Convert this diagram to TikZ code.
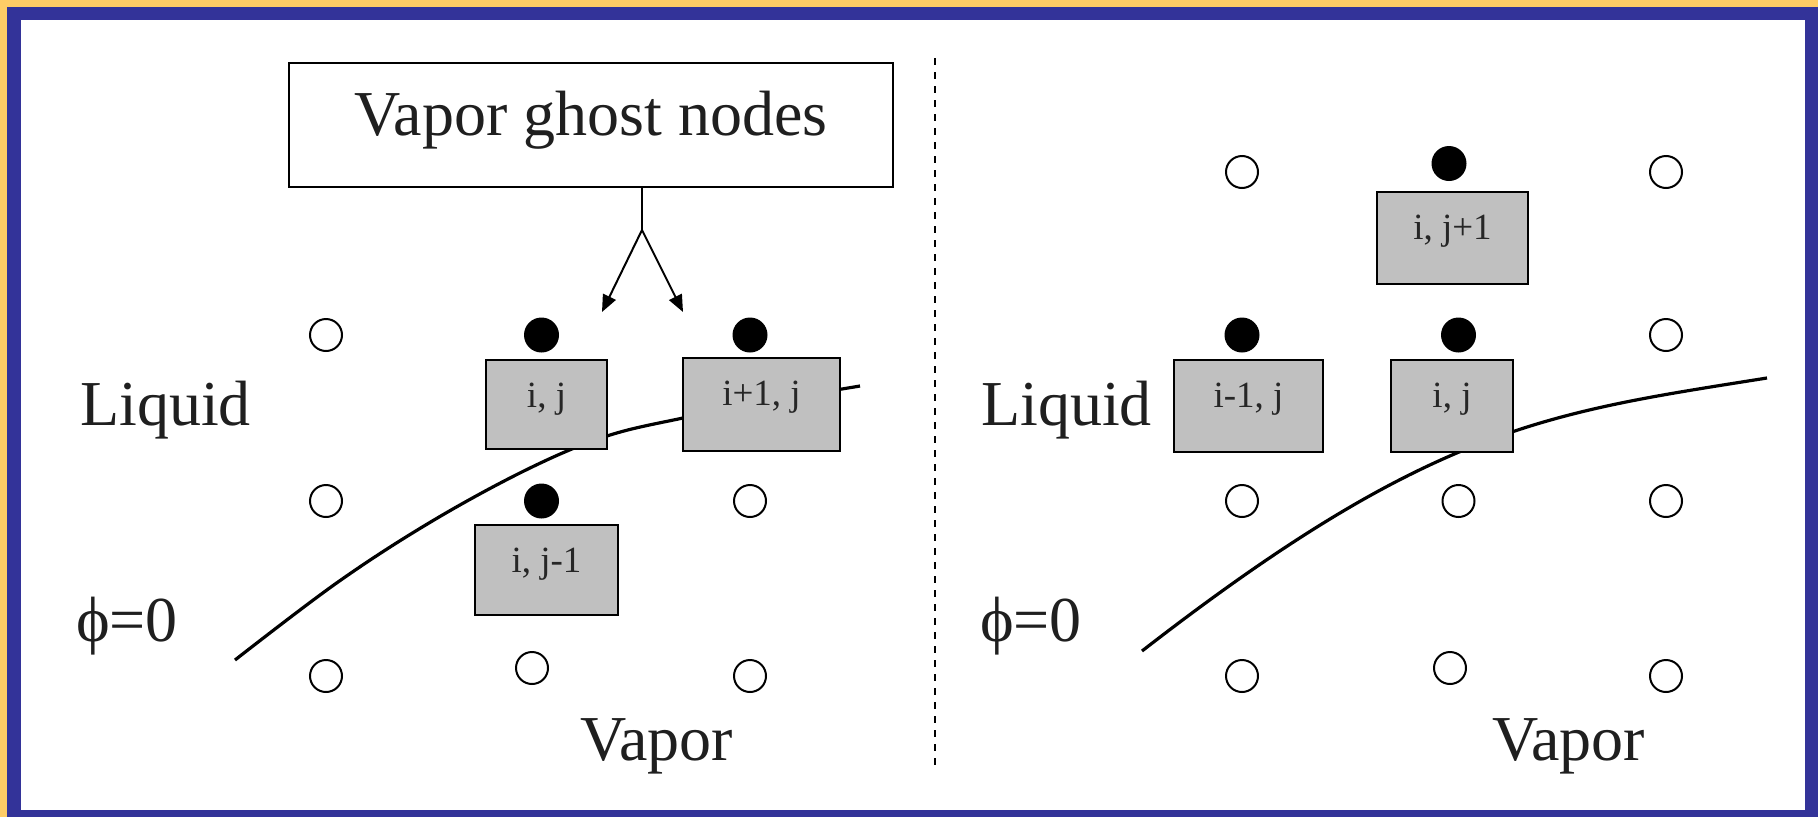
\documentclass[tikz,border=0pt]{standalone}
\usepackage{fontspec}
\setmainfont{Liberation Serif}
\usetikzlibrary{arrows.meta}
\definecolor{frameblue}{HTML}{333399}
\definecolor{frameyellow}{HTML}{FFCC66}
\definecolor{cellgray}{HTML}{C0C0C0}
\begin{document}
\begin{tikzpicture}[x=1pt,y=-1pt,
  big/.style={font=\fontsize{64}{70}\selectfont, inner sep=0pt, text=black!88},
  opennode/.style={circle, draw, line width=2pt, fill=white, minimum size=32pt, inner sep=0pt},
  solidnode/.style={circle, fill=black, minimum size=35pt, inner sep=0pt},
  cell/.style={draw, line width=2pt, fill=cellgray, inner sep=0pt, text=black!85,
    font=\fontsize{37}{40}\selectfont, text height=47pt},
  curve/.style={line width=3.2pt},
  pointer/.style={line width=2pt, -{Triangle[length=17pt,width=14pt]}}
]
\useasboundingbox (0,0) rectangle (1818,817);
% frame
\fill[frameyellow] (0,0) rectangle (1818,817);
\fill[frameblue] (7,7) rectangle (1818,817);
\fill[white] (21,20) rectangle (1805,810);

% divider
\draw[line width=2pt, dash pattern=on 7pt off 7pt] (934.5,58) -- (934.5,765);

% interface curves
\draw[curve] plot[smooth, tension=0.6] coordinates {(235,660) (338,582) (434,520) (530,468) (607,436) (683,418) (760,403) (860,386)};
\draw[curve] (1142,651) .. controls (1432,426) and (1547,413) .. (1767,378);

% ghost nodes label box and arrows
\node[draw, line width=1.6pt, fill=white, inner sep=0pt, minimum width=604pt,
  font=\fontsize{64}{70}\selectfont, text=black!88, text height=72.6pt, text depth=51.4pt]
  (ghost) at (591,125) {Vapor ghost nodes};
\coordinate (junc) at (642,230);
\coordinate (tipA) at (602,312);
\coordinate (tipB) at (683,312);
\draw[line width=2pt] (junc |- ghost.south) -- (junc);
\draw[pointer] (junc) -- (tipA);
\draw[pointer] (junc) -- (tipB);

% left panel grid
\node[opennode] (l1) at (326,335) {};
\node[opennode] (l2) at (326,501) {};
\node[opennode] (l3) at (326,676) {};
\node[opennode] (l4) at (532,668) {};
\node[opennode] (l5) at (750,501) {};
\node[opennode] (l6) at (750,676) {};
\node[solidnode] (lf1) at (541.5,335) {};
\node[solidnode] (lf2) at (750,335) {};
\node[solidnode] (lf3) at (541.5,501) {};
\node[cell, minimum width=121pt, text depth=42pt] (lij) at (546.5,404.5) {i, j};
\node[cell, minimum width=157pt, text depth=46pt] (lip) at (761.5,404.5) {i+1, j};
\node[cell, minimum width=143pt, text depth=42.5pt] (ljm) at (546.5,570) {i, j-1};

% right panel grid
\node[opennode] (r1) at (1242,172) {};
\node[solidnode] (rf1) at (1449,163.5) {};
\node[opennode] (r2) at (1666,172) {};
\node[solidnode] (rf2) at (1242,335) {};
\node[solidnode] (rf3) at (1458.5,335) {};
\node[opennode] (r3) at (1666,335) {};
\node[opennode] (r4) at (1242,501) {};
\node[opennode] (r5) at (1458.5,501) {};
\node[opennode] (r6) at (1666,501) {};
\node[opennode] (r7) at (1242,676) {};
\node[opennode] (r8) at (1450,668) {};
\node[opennode] (r9) at (1666,676) {};
\node[cell, minimum width=151pt, text depth=44.5pt] (rjp) at (1452.5,238) {i, j+1};
\node[cell, minimum width=149pt, text depth=44.5pt] (rim) at (1248.5,406) {i-1, j};
\node[cell, minimum width=122pt, text depth=44.5pt] (rij) at (1452,406) {i, j};

% labels
\node[big, anchor=base west] (liqL) at (80,425) {Liquid};
\node[big, anchor=base west] (liqR) at (981,425) {Liquid};
\node[big, anchor=base west] (phiL) at (76,641) {ϕ=0};
\node[big, anchor=base west] (phiR) at (980,641) {ϕ=0};
\node[big, anchor=base west] (vapL) at (580,760) {Vapor};
\node[big, anchor=base west] (vapR) at (1492,760) {Vapor};
\end{tikzpicture}
\end{document}
